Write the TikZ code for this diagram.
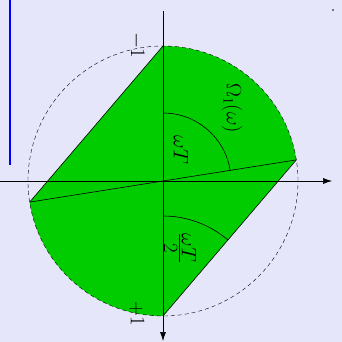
\documentclass[tikz,border=0pt]{standalone}
\definecolor{bglav}{RGB}{230,230,250}
\definecolor{regiongreen}{RGB}{0,204,0}
\usepackage{tikz}
\usetikzlibrary{arrows.meta, positioning, calc}
\usepackage{amsmath,amssymb}
\newcommand{\tightfrac}[2]{$\vcenter{\offinterlineskip\halign{\hfil##\hfil\cr
  $#1$\cr\noalign{\kern2pt\hrule height 0.6pt\kern2pt}$#2$\cr}}$}

\begin{document}
\begin{tikzpicture}[x=1pt, y=1pt, >={Latex[length=9pt,width=6pt]},
    lbl/.style={rotate=-90, font=\fontsize{21}{25}\selectfont, inner sep=0pt}]
      \fill[bglav] (-163,-161) rectangle (179,181);
      \useasboundingbox (-163,-161) rectangle (179,181);
      % Points
      \coordinate (O) at (0,0);
      \coordinate (A) at (90:135);
      \coordinate (B) at (270:135);
      \coordinate (C) at (189:135);
      \coordinate (D) at (9:135);
      % Region
      \fill[regiongreen] (A) -- (C) arc[start angle=189, end angle=270, radius=135]
        -- (D) arc[start angle=9, end angle=90, radius=135] -- cycle;
      \draw[dashed, dash pattern=on 4pt off 3pt] (O) circle(135);
      \draw[line width=0.6pt] (A) -- (C);
      \draw[line width=0.6pt] (B) -- (D);
      \draw[line width=0.6pt] (C) -- (D);
      % Axes
      \coordinate (xl) at (-163,0);
      \coordinate (xr) at (169,0);
      \coordinate (yt) at (0,170);
      \coordinate (yb) at (0,-160);
      \draw[->, line width=0.6pt] (xl) -- (xr);
      \draw[->, line width=0.6pt] (yt) -- (yb);
      % Angles
      \draw[line width=0.6pt] ($(O)+(90:68)$) arc(90:9:68);
      \draw[line width=0.6pt] ($(B)+(90:100)$) arc(90:49.5:100);
      % Labels
      \node[lbl] (m1) at (-26,136) {$-1$};
      \node[lbl] (p1) at (-26,-133) {$+1$};
      \node[lbl] (om) at (69,73) {$\Omega_1(\omega)$};
      \node[lbl] (wt) at (18,31) {$\omega T$};
      \node[lbl] (wt2) at (17,-67) {\tightfrac{\omega T}{2}};
      % Marker
      \draw[blue, line width=2.5pt] (-153,181) -- (-153,16);
      \fill (170,171) circle(0.8);
    \end{tikzpicture}
\end{document}
